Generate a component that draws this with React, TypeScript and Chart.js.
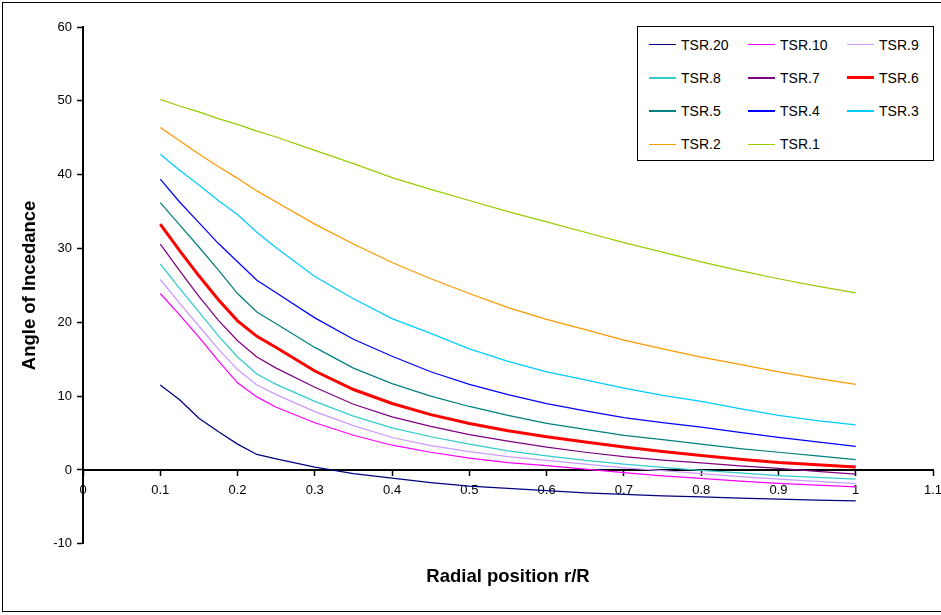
import React, { useEffect, useRef } from 'react';
import { Chart, registerables } from 'chart.js';

Chart.register(...registerables);

const radialPositions = [0.1, 0.125, 0.15, 0.175, 0.2, 0.225, 0.25, 0.3, 0.35, 0.4, 0.45, 0.5, 0.55, 0.6, 0.65, 0.7, 0.75, 0.8, 0.85, 0.9, 0.95, 1.0];

const tsr20 = [11.5, 9.5, 7.0, 5.2, 3.5, 2.1, 1.5, 0.4, -0.5, -1.1, -1.7, -2.2, -2.5, -2.8, -3.1, -3.3, -3.5, -3.65, -3.8, -3.95, -4.1, -4.2];
const tsr10 = [23.9, 21.0, 18.0, 14.8, 11.8, 9.9, 8.5, 6.4, 4.7, 3.35, 2.4, 1.6, 1.0, 0.6, 0.1, -0.35, -0.8, -1.15, -1.5, -1.8, -2.05, -2.3];
const tsr9 = [25.8, 22.6, 19.5, 16.4, 13.6, 11.5, 10.2, 7.9, 6.0, 4.4, 3.3, 2.5, 1.8, 1.3, 0.8, 0.3, -0.1, -0.5, -0.9, -1.25, -1.55, -1.85];
const tsr8 = [27.9, 24.6, 21.4, 18.2, 15.3, 13.0, 11.6, 9.3, 7.3, 5.7, 4.5, 3.5, 2.6, 1.9, 1.3, 0.8, 0.35, -0.05, -0.4, -0.75, -1.0, -1.25];
const tsr7 = [30.6, 27.0, 23.5, 20.3, 17.5, 15.3, 13.8, 11.2, 8.9, 7.2, 5.9, 4.8, 3.9, 3.1, 2.4, 1.8, 1.35, 0.95, 0.55, 0.2, -0.2, -0.55];
const tsr6 = [33.3, 29.7, 26.3, 23.1, 20.2, 18.1, 16.6, 13.4, 10.9, 9.0, 7.5, 6.3, 5.3, 4.5, 3.8, 3.1, 2.5, 1.95, 1.45, 1.0, 0.7, 0.4];
const tsr5 = [36.2, 33.2, 30.2, 27.1, 23.9, 21.4, 19.8, 16.6, 13.8, 11.7, 10.0, 8.6, 7.4, 6.3, 5.5, 4.7, 4.1, 3.5, 2.9, 2.4, 1.9, 1.4];
const tsr4 = [39.4, 36.3, 33.5, 30.7, 28.2, 25.7, 24.0, 20.6, 17.7, 15.4, 13.3, 11.6, 10.2, 9.0, 8.0, 7.1, 6.4, 5.8, 5.1, 4.4, 3.8, 3.2];
const tsr3 = [42.75, 40.6, 38.6, 36.5, 34.6, 32.2, 30.1, 26.2, 23.2, 20.5, 18.5, 16.4, 14.7, 13.3, 12.2, 11.1, 10.1, 9.3, 8.3, 7.4, 6.7, 6.1];
const tsr2 = [46.4, 44.6, 42.8, 41.1, 39.5, 37.8, 36.3, 33.3, 30.6, 28.1, 25.9, 23.9, 22.0, 20.4, 19.0, 17.6, 16.4, 15.3, 14.3, 13.3, 12.4, 11.6];
const tsr1 = [50.2, 49.3, 48.5, 47.6, 46.8, 45.9, 45.1, 43.3, 41.5, 39.6, 38.0, 36.5, 35.0, 33.6, 32.2, 30.8, 29.5, 28.2, 27.0, 25.9, 24.9, 24.0];

const seriesNames = ['TSR.20', 'TSR.10', 'TSR.9', 'TSR.8', 'TSR.7', 'TSR.6', 'TSR.5', 'TSR.4', 'TSR.3', 'TSR.2', 'TSR.1'];
const seriesValues = [tsr20, tsr10, tsr9, tsr8, tsr7, tsr6, tsr5, tsr4, tsr3, tsr2, tsr1];
const seriesColors = ['#000080', '#ff00ff', '#cc99ff', '#33cccc', '#800080', '#ff0000', '#008080', '#0000ff', '#00ccff', '#ff9900', '#99cc00'];
const seriesWidths = [1.25, 1.25, 1.25, 1.25, 1.25, 3, 1.25, 1.25, 1.25, 1.25, 1.25];

const xMin = 0;
const xMax = 1.1;
const xStep = 0.1;
const yMin = -10;
const yMax = 60;
const yStep = 10;

const xTitle = 'Radial position r/R';
const yTitle = 'Angle of Incedance';

const FONT = "'Liberation Sans', Arial, sans-serif";

export default function App() {
  const canvasRef = useRef<HTMLCanvasElement>(null);

  useEffect(() => {
    const canvas = canvasRef.current;
    if (!canvas) return;
    Chart.defaults.color = '#000';
    const chart = new Chart(canvas, {
      type: 'line',
      data: {
        datasets: seriesNames.map((name, i) => ({
          label: name,
          data: radialPositions.map((r, j) => ({ x: r, y: seriesValues[i][j] })),
          borderColor: seriesColors[i],
          backgroundColor: seriesColors[i],
          borderWidth: seriesWidths[i],
          pointRadius: 0,
          tension: 0,
          fill: false,
          order: -i,
        })),
      },
      options: {
        responsive: false,
        animation: false,
        layout: { padding: { top: 27, right: 8, left: 0, bottom: 0 } },
        plugins: {
          legend: { display: false },
          tooltip: { enabled: false },
          title: {
            display: true,
            position: 'bottom',
            fullSize: false,
            text: xTitle,
            color: '#000',
            font: { family: FONT, size: 18.5, weight: 'bold' },
            padding: { top: 22, bottom: 27 },
          },
        },
        scales: {
          x: {
            type: 'linear',
            min: xMin,
            max: xMax,
            position: { y: 0 },
            afterFit: (scale: any) => {
              scale.height = 0;
              scale.paddingLeft = 0;
              scale.paddingRight = 0;
            },
            grid: {
              drawOnChartArea: false,
              drawTicks: true,
              tickLength: 5,
              tickColor: '#000',
              tickWidth: 1.5,
            },
            border: { color: '#000', width: 2 },
            ticks: {
              stepSize: xStep,
              padding: 8,
              color: '#000',
              font: { family: FONT, size: 13 },
              maxRotation: 0,
              autoSkip: false,
              callback: (v: any) => String(Number(Number(v).toFixed(1))),
            },
          },
          y: {
            type: 'linear',
            min: yMin,
            max: yMax,
            position: 'left',
            afterFit: (scale: any) => {
              scale.width = 83;
            },
            grid: {
              drawOnChartArea: false,
              drawTicks: true,
              tickLength: 6,
              tickColor: '#000',
              tickWidth: 1.5,
            },
            border: { color: '#000', width: 2 },
            ticks: {
              stepSize: yStep,
              padding: 5,
              color: '#000',
              font: { family: FONT, size: 13 },
            },
            title: {
              display: true,
              text: yTitle,
              color: '#000',
              font: { family: FONT, size: 18.5, weight: 'bold' },
              padding: { top: 19, bottom: 0 },
            },
          },
        },
      },
    });
    return () => chart.destroy();
  }, []);

  return (
    <div style={{ position: 'fixed', left: 0, top: 0, width: 941, height: 615, background: '#fff', overflow: 'hidden' }}>
      <canvas ref={canvasRef} width={941} height={615} style={{ position: 'absolute', left: 0, top: 0 }} />
      <div
        style={{
          position: 'absolute',
          left: 2,
          top: 2,
          width: 960,
          height: 608,
          border: '1px solid #000',
          pointerEvents: 'none',
        }}
      />
      <div
        style={{
          position: 'absolute',
          left: 637,
          top: 26,
          width: 297,
          height: 135,
          boxSizing: 'border-box',
          border: '1px solid #000',
          background: '#fff',
          fontFamily: FONT,
          fontSize: 14,
          color: '#000',
        }}
      >
        {seriesNames.map((name, i) => {
          const row = Math.floor(i / 3);
          const col = i % 3;
          const cy = 17.5 + row * 33.3;
          return (
            <React.Fragment key={name}>
              <div
                style={{
                  position: 'absolute',
                  left: 11 + col * 99,
                  top: cy - seriesWidths[i] / 2,
                  width: 27,
                  height: seriesWidths[i] < 2 ? 1.5 : 3,
                  background: seriesColors[i],
                }}
              />
              <div
                style={{
                  position: 'absolute',
                  left: 43 + col * 99,
                  top: cy - 9,
                  height: 18,
                  lineHeight: '18px',
                  whiteSpace: 'nowrap',
                }}
              >
                {name}
              </div>
            </React.Fragment>
          );
        })}
      </div>
    </div>
  );
}
